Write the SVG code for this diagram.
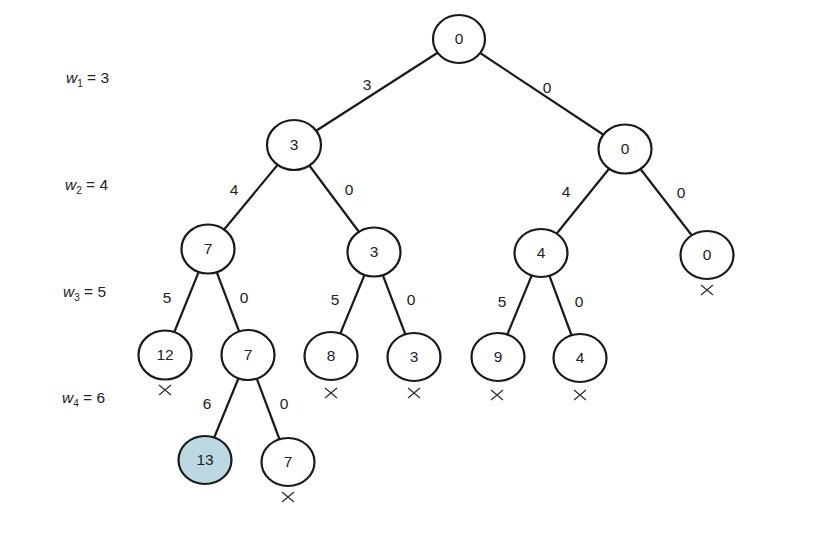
<svg xmlns="http://www.w3.org/2000/svg" width="836" height="535" viewBox="0 0 836 535">
<style>
.n ellipse{fill:#fff;stroke:#1a1a1a;stroke-width:2.2}
.n text,.lbl,.w{font-family:"Liberation Sans",Arial,sans-serif;font-size:15.5px;fill:#222;text-anchor:middle}
.w{text-anchor:start}
#edges line{stroke:#1a1a1a;stroke-width:2.2}
.x path{stroke:#333;stroke-width:1.3;fill:none}
</style>
<rect width="836" height="535" fill="#fff"/>
<g id="edges">
<line x1="459" y1="39" x2="294" y2="145"/>
<line x1="459" y1="39" x2="625" y2="149"/>
<line x1="294" y1="145" x2="208" y2="249"/>
<line x1="294" y1="145" x2="374" y2="252"/>
<line x1="625" y1="149" x2="541" y2="253"/>
<line x1="625" y1="149" x2="707" y2="255"/>
<line x1="208" y1="249" x2="165" y2="355"/>
<line x1="208" y1="249" x2="248" y2="355"/>
<line x1="374" y1="252" x2="331" y2="356"/>
<line x1="374" y1="252" x2="414" y2="357"/>
<line x1="541" y1="253" x2="498" y2="357"/>
<line x1="541" y1="253" x2="580" y2="358"/>
<line x1="248" y1="355" x2="205" y2="460"/>
<line x1="248" y1="355" x2="288" y2="462"/>
</g>
<g id="edge-labels">
<text class="lbl" x="367" y="90">3</text>
<text class="lbl" x="547" y="93">0</text>
<text class="lbl" x="234" y="195">4</text>
<text class="lbl" x="349" y="195">0</text>
<text class="lbl" x="566" y="197">4</text>
<text class="lbl" x="681" y="198">0</text>
<text class="lbl" x="167" y="303">5</text>
<text class="lbl" x="244" y="303">0</text>
<text class="lbl" x="335" y="305">5</text>
<text class="lbl" x="411" y="305">0</text>
<text class="lbl" x="502" y="307">5</text>
<text class="lbl" x="579" y="307">0</text>
<text class="lbl" x="207" y="409">6</text>
<text class="lbl" x="284" y="409">0</text>
</g>
<g id="n-root" class="n"><ellipse cx="459" cy="39" rx="26" ry="24"/><text x="459" y="44">0</text></g>
<g id="n-a" class="n"><ellipse cx="294" cy="145" rx="27" ry="25"/><text x="294" y="150">3</text></g>
<g id="n-b" class="n"><ellipse cx="625" cy="149" rx="26.5" ry="24.5"/><text x="625" y="154">0</text></g>
<g id="n-c" class="n"><ellipse cx="208" cy="249" rx="26.5" ry="24.5"/><text x="208" y="254">7</text></g>
<g id="n-d" class="n"><ellipse cx="374" cy="252" rx="26.5" ry="24.5"/><text x="374" y="257">3</text></g>
<g id="n-e" class="n"><ellipse cx="541" cy="253" rx="26.5" ry="24"/><text x="541" y="258">4</text></g>
<g id="n-f" class="n"><ellipse cx="707" cy="255" rx="26.5" ry="24"/><text x="707" y="260">0</text></g>
<g id="n-g" class="n"><ellipse cx="165" cy="355" rx="26.5" ry="24.5"/><text x="165" y="360">12</text></g>
<g id="n-h" class="n"><ellipse cx="248" cy="355" rx="26.5" ry="25"/><text x="248" y="360">7</text></g>
<g id="n-i" class="n"><ellipse cx="331" cy="356" rx="26.5" ry="24"/><text x="331" y="361">8</text></g>
<g id="n-j" class="n"><ellipse cx="414" cy="357" rx="26.5" ry="24"/><text x="414" y="362">3</text></g>
<g id="n-k" class="n"><ellipse cx="498" cy="357" rx="26.5" ry="24"/><text x="498" y="362">9</text></g>
<g id="n-l" class="n"><ellipse cx="580" cy="358" rx="26.5" ry="24"/><text x="580" y="363">4</text></g>
<g id="n-m" class="n"><ellipse cx="205" cy="460" rx="26.5" ry="24" style="fill:#bcd8e2"/><text x="205" y="465">13</text></g>
<g id="n-n" class="n"><ellipse cx="288" cy="462" rx="26.5" ry="24"/><text x="288" y="467">7</text></g>
<g id="crosses" class="x">
<path d="M159 385 l12 10 M171 385 l-12 10"/>
<path d="M325 388 l12 10 M337 388 l-12 10"/>
<path d="M408 388 l12 10 M420 388 l-12 10"/>
<path d="M491 390 l12 10 M503 390 l-12 10"/>
<path d="M574 390 l12 10 M586 390 l-12 10"/>
<path d="M701 285 l12 10 M713 285 l-12 10"/>
<path d="M282 492 l12 10 M294 492 l-12 10"/>
</g>
<g id="weights">
<text class="w" x="66" y="83"><tspan font-style="italic">w</tspan><tspan font-size="10" dy="4">1</tspan><tspan dy="-4"> = 3</tspan></text>
<text class="w" x="65" y="190"><tspan font-style="italic">w</tspan><tspan font-size="10" dy="4">2</tspan><tspan dy="-4"> = 4</tspan></text>
<text class="w" x="63" y="297"><tspan font-style="italic">w</tspan><tspan font-size="10" dy="4">3</tspan><tspan dy="-4"> = 5</tspan></text>
<text class="w" x="62" y="403"><tspan font-style="italic">w</tspan><tspan font-size="10" dy="4">4</tspan><tspan dy="-4"> = 6</tspan></text>
</g>
</svg>
